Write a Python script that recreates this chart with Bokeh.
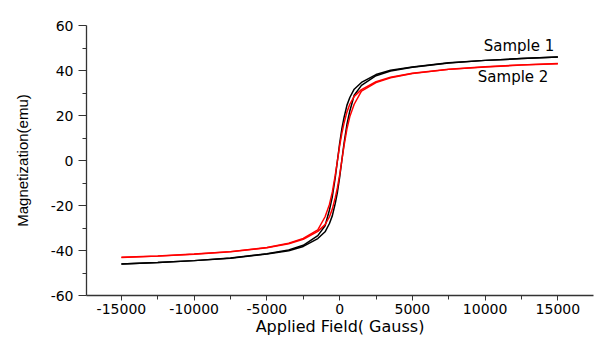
from bokeh.plotting import figure
from bokeh.models import FixedTicker, Label
from bokeh.embed import file_html
from bokeh.resources import INLINE

# Applied field grid (Gauss)
field = [-15000, -12500, -10000, -7500, -5000, -3500, -2500, -1500, -1000, -700, -500, -300, -150,
         0, 150, 300, 500, 700, 1000, 1500, 2500, 3500, 5000, 7500, 10000, 12500, 15000]

# Sample 1 (black) - descending and ascending branches (emu)
s1_desc = [-46.0, -45.3, -44.5, -43.3, -41.4, -39.8, -37.7, -33.4, -29.0, -22.0, -16.0, -7.5, 0.0,
           7.5, 14.0, 19.0, 24.5, 28.0, 31.7, 34.7, 38.2, 40.1, 41.6, 43.4, 44.5, 45.3, 46.0]
s1_asc = [-46.0, -45.3, -44.5, -43.4, -41.6, -40.1, -38.2, -34.7, -31.7, -28.0, -24.5, -19.0, -14.0,
          -7.5, 0.0, 7.5, 16.0, 22.0, 29.0, 33.4, 37.7, 39.8, 41.4, 43.3, 44.5, 45.3, 46.0]

# Sample 2 (red)
s2_desc = [-43.0, -42.4, -41.6, -40.5, -38.7, -36.8, -34.6, -30.8, -25.0, -19.5, -14.0, -6.5, 0.0,
           6.5, 12.0, 16.5, 21.5, 25.0, 28.5, 31.5, 35.0, 37.0, 38.8, 40.6, 41.7, 42.5, 43.1]
s2_asc = [-43.1, -42.5, -41.7, -40.6, -38.8, -37.0, -35.0, -31.5, -28.5, -25.0, -21.5, -16.5, -12.0,
          -6.5, 0.0, 6.5, 14.0, 19.5, 25.0, 30.8, 34.6, 36.8, 38.7, 40.5, 41.6, 42.4, 43.0]

x_ticks = [-15000, -10000, -5000, 0, 5000, 10000, 15000]
x_tick_labels = ["-15000", "-10000", "-5000", "0", "5000", "10000", "15000"]
x_minor = [-17500, -12500, -7500, -2500, 2500, 7500, 12500, 17500]
y_ticks = [-60, -40, -20, 0, 20, 40, 60]
y_tick_labels = ["-60", "-40", "-20", "0", "20", "40", "60"]
y_minor = [-50, -30, -10, 10, 30, 50]

series_names = ["Sample 1", "Sample 2"]
name_x = [9900, 9500]
name_y = [50.7, 37.2]

p = figure(width=594, height=338, output_backend="svg", toolbar_location=None,
           x_range=(-17400, 17450), y_range=(-60, 60),
           min_border_left=86, min_border_right=1, min_border_top=25, min_border_bottom=42)

p.outline_line_color = None
p.xgrid.grid_line_color = None
p.ygrid.grid_line_color = None
p.background_fill_color = "white"
p.border_fill_color = "white"

p.line(field, s1_desc, line_color="black", line_width=1.5)
p.line(field, s1_asc, line_color="black", line_width=1.5)
p.line(field, s2_desc, line_color="#ff0000", line_width=1.5)
p.line(field, s2_asc, line_color="#ff0000", line_width=1.5)

for nm, xx, yy in zip(series_names, name_x, name_y):
    p.add_layout(Label(x=xx, y=yy, text=nm, text_font="DejaVu Sans", text_font_size="15px",
                       text_color="black", text_baseline="middle", text_align="left"))

p.xaxis.ticker = FixedTicker(ticks=x_ticks, minor_ticks=x_minor)
p.yaxis.ticker = FixedTicker(ticks=y_ticks, minor_ticks=y_minor)
p.xaxis.major_label_overrides = dict(zip(x_ticks, x_tick_labels))
p.yaxis.major_label_overrides = dict(zip(y_ticks, y_tick_labels))

for ax in (p.xaxis, p.yaxis):
    ax.axis_line_color = "#333333"
    ax.axis_line_width = 1.3
    ax.major_tick_line_color = "#333333"
    ax.minor_tick_line_color = "#333333"
    ax.major_tick_in = 0
    ax.minor_tick_in = 0
    ax.major_label_text_font = "DejaVu Sans"
    ax.major_label_text_font_size = "14px"
    ax.major_label_text_color = "black"
    ax.axis_label_text_font_style = "normal"
    ax.axis_label_text_color = "black"

p.xaxis.major_tick_out = 5
p.xaxis.minor_tick_out = 4
p.yaxis.major_tick_out = 8
p.yaxis.minor_tick_out = 4
p.xaxis.major_label_standoff = 3
p.yaxis.major_label_standoff = 5

p.xaxis.axis_label = "Applied Field( Gauss)"
p.xaxis.axis_label_text_font = "DejaVu Sans"
p.xaxis.axis_label_text_font_size = "16px"
p.xaxis.axis_label_standoff = 0

p.yaxis.axis_label = "Magnetization(emu)"
p.yaxis.axis_label_text_font = "Liberation Sans"
p.yaxis.axis_label_text_font_size = "15px"
p.yaxis.axis_label_standoff = 17

open("out.html", "w").write(file_html(p, INLINE))
